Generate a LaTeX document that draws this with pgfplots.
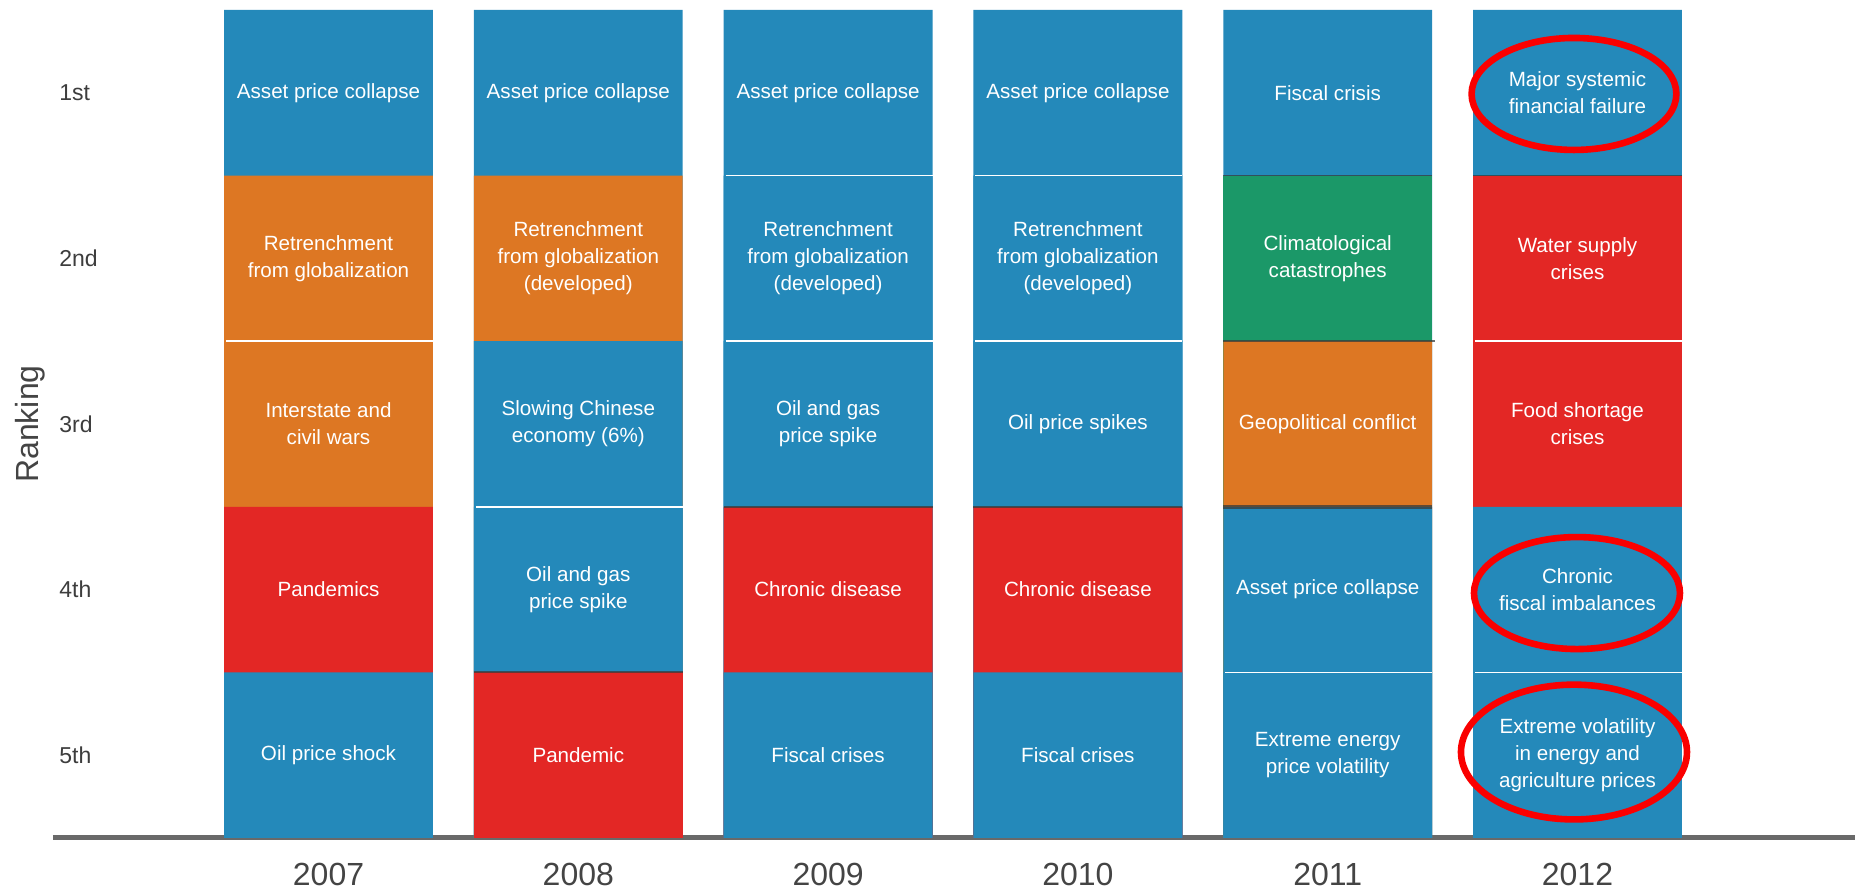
\documentclass[border=0pt]{standalone}
\usepackage{pgfplots}
\pgfplotsset{compat=1.18}
\usepackage{fontspec}
\setmainfont{Liberation Sans}

\definecolor{cB}{RGB}{36,137,186}
\definecolor{cO}{RGB}{221,119,35}
\definecolor{cR}{RGB}{227,39,37}
\definecolor{cG}{RGB}{27,152,104}
\definecolor{ring}{RGB}{250,0,0}
\definecolor{txt}{RGB}{68,68,68}
\definecolor{seam}{RGB}{55,60,60}

\tikzset{lab/.style={text=white, align=center, inner sep=0pt,
    font=\fontsize{10.3}{13.4}\selectfont}}

\begin{document}
\begin{tikzpicture}
% picture is 1860x893 px at 2 px per pt; axis box starts at (53px, 838px)
\path[use as bounding box] (-26.5pt,-27.5pt) rectangle (903.5pt,419pt);
\begin{axis}[
  at={(0,0)}, anchor=south west,
  scale only axis, width=901pt, height=414pt,
  xmin=-1.103, xmax=6.111, ymin=0, ymax=5,
  axis x line*=bottom, axis y line*=left,
  x axis line style={draw={rgb,255:red,105;green,105;blue,105}, line width=2.5pt, -},
  y axis line style={draw=none},
  major tick length=0pt, tick style={draw=none},
  xtick={0,...,5}, xticklabels={2007,2008,2009,2010,2011,2012},
  ytick={0.5,1.5,2.5,3.5,4.5}, yticklabels={5th,4th,3rd,2nd,1st},
  xticklabel style={anchor=north, inner sep=0pt, yshift=-12.5pt, text=txt,
    font=\fontsize{16}{18}\selectfont},
  yticklabel style={anchor=west, inner sep=0pt, xshift=3pt, text=txt!90!black,
    font=\fontsize{11.5}{13}\selectfont},
  /pgf/number format/assume math mode=true,
  ylabel={Ranking},
  every axis y label/.style={at={(axis description cs:-0.0128,0.5)}, rotate=90,
    anchor=center, text=txt, font=\fontsize{16}{18}\selectfont},
  clip=false,
  cell/.style={ybar, bar width=0.836, bar shift=0pt, draw=none},
]
% painter's layers: rank r is a bar from 0 up to 6-r, drawn top rank first
% rank 1
\addplot[cell, fill=cB] coordinates {(0,5) (1,5) (2,5) (3,5) (4,5) (5,5)};
% rank 2
\addplot[cell, fill=cO] coordinates {(0,4) (1,4)};
\addplot[cell, fill=cB] coordinates {(2,4) (3,4)};
\addplot[cell, fill=cG] coordinates {(4,4)};
\addplot[cell, fill=cR] coordinates {(5,4)};
% rank 3
\addplot[cell, fill=cO] coordinates {(0,3) (4,3)};
\addplot[cell, fill=cB] coordinates {(1,3) (2,3) (3,3)};
\addplot[cell, fill=cR] coordinates {(5,3)};
% rank 4
\addplot[cell, fill=cR] coordinates {(0,2) (2,2) (3,2)};
\addplot[cell, fill=cB] coordinates {(1,2) (4,2) (5,2)};
% rank 5
\addplot[cell, fill=cB] coordinates {(0,1) (2,1) (3,1) (4,1) (5,1)};
\addplot[cell, fill=cR] coordinates {(1,1)};

% white seams between cells of the same colour
\addplot[white, line width=0.8pt, unbounded coords=jump] coordinates {
  (-0.41,3) (0.418,3) (nan,nan)
  (0.59,2) (1.418,2) (nan,nan)
  (1.59,4) (2.418,4) (nan,nan)
  (1.59,3) (2.418,3) (nan,nan)
  (2.59,4) (3.418,4) (nan,nan)
  (2.59,3) (3.418,3) (nan,nan)
  (3.59,1) (4.418,1) (nan,nan)
  (4.59,3) (5.418,3) (nan,nan)
  (4.59,1) (5.418,1)};
% dark seams between some colour changes
\addplot[seam, opacity=0.75, line width=0.9pt, unbounded coords=jump] coordinates {
  (0.582,1) (1.418,1) (nan,nan)
  (1.582,2) (2.418,2) (nan,nan)
  (2.582,2) (3.418,2) (nan,nan)
  (3.582,4) (4.418,4) (nan,nan)
  (3.582,3) (4.43,3) (nan,nan)
  (4.582,4) (5.418,4)};
\addplot[seam, opacity=0.75, line width=2pt] coordinates {(3.582,2) (4.418,2)};

% cell texts
\node[lab] at (axis cs:0,4.5) {Asset price collapse};
\node[lab] at (axis cs:0,3.5) {Retrenchment\\from globalization};
\node[lab] at (axis cs:0,2.5) {Interstate and\\civil wars};
\node[lab] at (axis cs:0,1.5) {Pandemics};
\node[lab] at (axis cs:0,0.5) {Oil price shock};

\node[lab] at (axis cs:1,4.5) {Asset price collapse};
\node[lab] at (axis cs:1,3.5) {Retrenchment\\from globalization\\(developed)};
\node[lab] at (axis cs:1,2.5) {Slowing Chinese\\economy (6\%)};
\node[lab] at (axis cs:1,1.5) {Oil and gas\\price spike};
\node[lab] at (axis cs:1,0.5) {Pandemic};

\node[lab] at (axis cs:2,4.5) {Asset price collapse};
\node[lab] at (axis cs:2,3.5) {Retrenchment\\from globalization\\(developed)};
\node[lab] at (axis cs:2,2.5) {Oil and gas\\price spike};
\node[lab] at (axis cs:2,1.5) {Chronic disease};
\node[lab] at (axis cs:2,0.5) {Fiscal crises};

\node[lab] at (axis cs:3,4.5) {Asset price collapse};
\node[lab] at (axis cs:3,3.5) {Retrenchment\\from globalization\\(developed)};
\node[lab] at (axis cs:3,2.5) {Oil price spikes};
\node[lab] at (axis cs:3,1.5) {Chronic disease};
\node[lab] at (axis cs:3,0.5) {Fiscal crises};

\node[lab] at (axis cs:4,4.5) {Fiscal crisis};
\node[lab] at (axis cs:4,3.5) {Climatological\\catastrophes};
\node[lab] at (axis cs:4,2.5) {Geopolitical conflict};
\node[lab] at (axis cs:4,1.5) {Asset price collapse};
\node[lab] at (axis cs:4,0.5) {Extreme energy\\price volatility};

\node[lab] at (axis cs:5,4.5) {Major systemic\\financial failure};
\node[lab] at (axis cs:5,3.5) {Water supply\\crises};
\node[lab] at (axis cs:5,2.5) {Food shortage\\crises};
\node[lab] at (axis cs:5,1.5) {Chronic\\fiscal imbalances};
\node[lab] at (axis cs:5,0.5) {Extreme volatility\\in energy and\\agriculture prices};

% red rings on the 2012 column
\draw[ring, line width=3.3pt] (axis cs:4.986,4.493) ellipse [x radius=51.2pt, y radius=28pt];
\draw[ring, line width=3.3pt] (axis cs:4.998,1.479) ellipse [x radius=51.5pt, y radius=28pt];
\draw[ring, line width=3.3pt] (axis cs:4.986,0.519) ellipse [x radius=56.5pt, y radius=33.7pt];
\end{axis}
\end{tikzpicture}
\end{document}
